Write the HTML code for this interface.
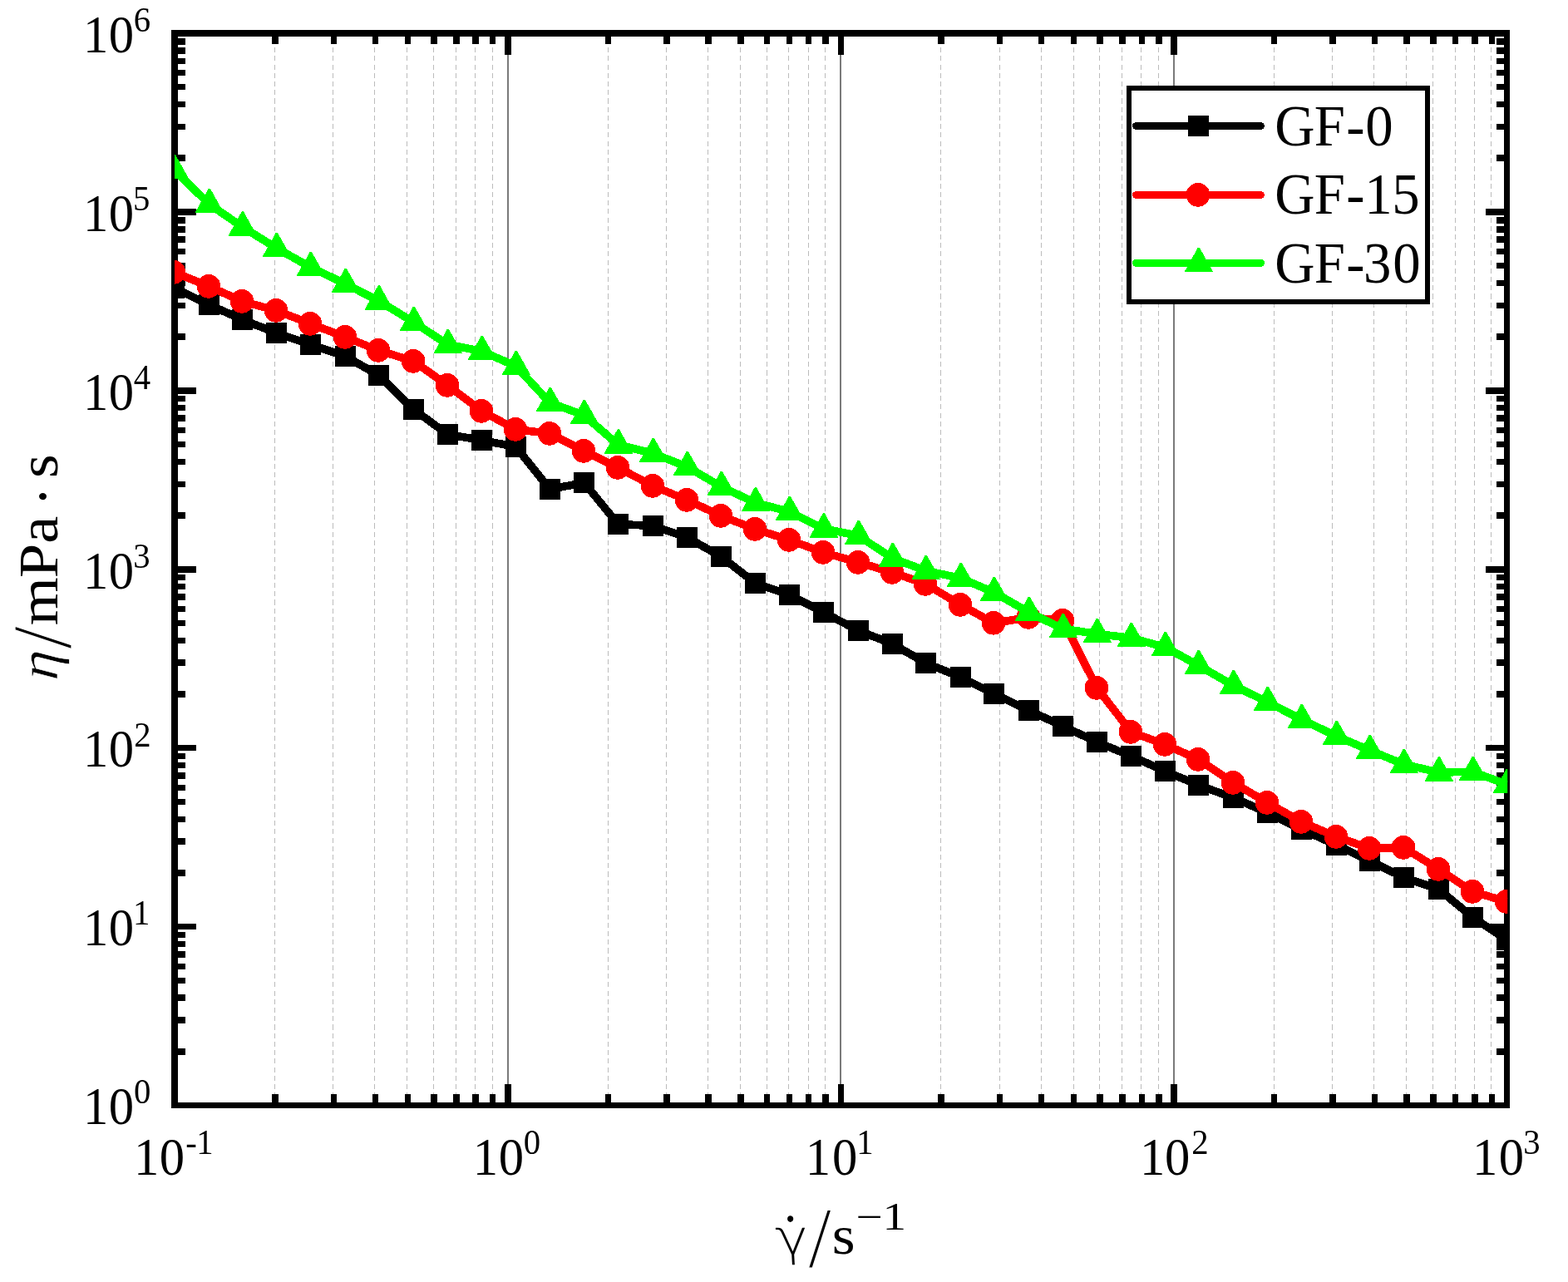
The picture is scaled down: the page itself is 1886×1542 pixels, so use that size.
<!DOCTYPE html>
<html lang="en"><head><meta charset="utf-8"><title>Viscosity versus shear rate</title>
<style>
html,body{margin:0;padding:0;background:#fff;}
body{width:1886px;height:1542px;overflow:hidden;}
svg{display:block;}
text{font-family:"Liberation Serif","DejaVu Serif",serif;fill:#000;white-space:pre;}
.it{font-style:italic;}
</style></head><body>
<svg width="1886" height="1542" viewBox="0 0 1886 1542">
<rect x="0" y="0" width="1886" height="1542" fill="#fff"/>
<defs><clipPath id="plot"><rect x="210" y="40" width="1603.2" height="1289.6"/></clipPath></defs>
<g id="grid" fill="none" shape-rendering="crispEdges">
<line x1="330.5" y1="40" x2="330.5" y2="1329.6" stroke="#bcbcbc" stroke-width="1" stroke-dasharray="6.1 4.12" stroke-dashoffset="3.33"/>
<line x1="400.5" y1="40" x2="400.5" y2="1329.6" stroke="#bcbcbc" stroke-width="1" stroke-dasharray="6.1 4.12" stroke-dashoffset="3.33"/>
<line x1="450.5" y1="40" x2="450.5" y2="1329.6" stroke="#bcbcbc" stroke-width="1" stroke-dasharray="6.1 4.12" stroke-dashoffset="3.33"/>
<line x1="489.5" y1="40" x2="489.5" y2="1329.6" stroke="#bcbcbc" stroke-width="1" stroke-dasharray="6.1 4.12" stroke-dashoffset="3.33"/>
<line x1="521.5" y1="40" x2="521.5" y2="1329.6" stroke="#bcbcbc" stroke-width="1" stroke-dasharray="6.1 4.12" stroke-dashoffset="3.33"/>
<line x1="548.5" y1="40" x2="548.5" y2="1329.6" stroke="#bcbcbc" stroke-width="1" stroke-dasharray="6.1 4.12" stroke-dashoffset="3.33"/>
<line x1="571.5" y1="40" x2="571.5" y2="1329.6" stroke="#bcbcbc" stroke-width="1" stroke-dasharray="6.1 4.12" stroke-dashoffset="3.33"/>
<line x1="592.5" y1="40" x2="592.5" y2="1329.6" stroke="#bcbcbc" stroke-width="1" stroke-dasharray="6.1 4.12" stroke-dashoffset="3.33"/>
<line x1="731.5" y1="40" x2="731.5" y2="1329.6" stroke="#bcbcbc" stroke-width="1" stroke-dasharray="6.1 4.12" stroke-dashoffset="3.33"/>
<line x1="801.5" y1="40" x2="801.5" y2="1329.6" stroke="#bcbcbc" stroke-width="1" stroke-dasharray="6.1 4.12" stroke-dashoffset="3.33"/>
<line x1="851.5" y1="40" x2="851.5" y2="1329.6" stroke="#bcbcbc" stroke-width="1" stroke-dasharray="6.1 4.12" stroke-dashoffset="3.33"/>
<line x1="890.5" y1="40" x2="890.5" y2="1329.6" stroke="#bcbcbc" stroke-width="1" stroke-dasharray="6.1 4.12" stroke-dashoffset="3.33"/>
<line x1="922.5" y1="40" x2="922.5" y2="1329.6" stroke="#bcbcbc" stroke-width="1" stroke-dasharray="6.1 4.12" stroke-dashoffset="3.33"/>
<line x1="948.5" y1="40" x2="948.5" y2="1329.6" stroke="#bcbcbc" stroke-width="1" stroke-dasharray="6.1 4.12" stroke-dashoffset="3.33"/>
<line x1="972.5" y1="40" x2="972.5" y2="1329.6" stroke="#bcbcbc" stroke-width="1" stroke-dasharray="6.1 4.12" stroke-dashoffset="3.33"/>
<line x1="992.5" y1="40" x2="992.5" y2="1329.6" stroke="#bcbcbc" stroke-width="1" stroke-dasharray="6.1 4.12" stroke-dashoffset="3.33"/>
<line x1="1131.5" y1="40" x2="1131.5" y2="1329.6" stroke="#bcbcbc" stroke-width="1" stroke-dasharray="6.1 4.12" stroke-dashoffset="3.33"/>
<line x1="1202.5" y1="40" x2="1202.5" y2="1329.6" stroke="#bcbcbc" stroke-width="1" stroke-dasharray="6.1 4.12" stroke-dashoffset="3.33"/>
<line x1="1252.5" y1="40" x2="1252.5" y2="1329.6" stroke="#bcbcbc" stroke-width="1" stroke-dasharray="6.1 4.12" stroke-dashoffset="3.33"/>
<line x1="1291.5" y1="40" x2="1291.5" y2="1329.6" stroke="#bcbcbc" stroke-width="1" stroke-dasharray="6.1 4.12" stroke-dashoffset="3.33"/>
<line x1="1322.5" y1="40" x2="1322.5" y2="1329.6" stroke="#bcbcbc" stroke-width="1" stroke-dasharray="6.1 4.12" stroke-dashoffset="3.33"/>
<line x1="1349.5" y1="40" x2="1349.5" y2="1329.6" stroke="#bcbcbc" stroke-width="1" stroke-dasharray="6.1 4.12" stroke-dashoffset="3.33"/>
<line x1="1372.5" y1="40" x2="1372.5" y2="1329.6" stroke="#bcbcbc" stroke-width="1" stroke-dasharray="6.1 4.12" stroke-dashoffset="3.33"/>
<line x1="1393.5" y1="40" x2="1393.5" y2="1329.6" stroke="#bcbcbc" stroke-width="1" stroke-dasharray="6.1 4.12" stroke-dashoffset="3.33"/>
<line x1="1532.5" y1="40" x2="1532.5" y2="1329.6" stroke="#bcbcbc" stroke-width="1" stroke-dasharray="6.1 4.12" stroke-dashoffset="3.33"/>
<line x1="1602.5" y1="40" x2="1602.5" y2="1329.6" stroke="#bcbcbc" stroke-width="1" stroke-dasharray="6.1 4.12" stroke-dashoffset="3.33"/>
<line x1="1652.5" y1="40" x2="1652.5" y2="1329.6" stroke="#bcbcbc" stroke-width="1" stroke-dasharray="6.1 4.12" stroke-dashoffset="3.33"/>
<line x1="1691.5" y1="40" x2="1691.5" y2="1329.6" stroke="#bcbcbc" stroke-width="1" stroke-dasharray="6.1 4.12" stroke-dashoffset="3.33"/>
<line x1="1723.5" y1="40" x2="1723.5" y2="1329.6" stroke="#bcbcbc" stroke-width="1" stroke-dasharray="6.1 4.12" stroke-dashoffset="3.33"/>
<line x1="1750.5" y1="40" x2="1750.5" y2="1329.6" stroke="#bcbcbc" stroke-width="1" stroke-dasharray="6.1 4.12" stroke-dashoffset="3.33"/>
<line x1="1773.5" y1="40" x2="1773.5" y2="1329.6" stroke="#bcbcbc" stroke-width="1" stroke-dasharray="6.1 4.12" stroke-dashoffset="3.33"/>
<line x1="1793.5" y1="40" x2="1793.5" y2="1329.6" stroke="#bcbcbc" stroke-width="1" stroke-dasharray="6.1 4.12" stroke-dashoffset="3.33"/>
<line x1="611" y1="40" x2="611" y2="1329.6" stroke="#7a7a7a" stroke-width="2"/>
<line x1="1011" y1="40" x2="1011" y2="1329.6" stroke="#7a7a7a" stroke-width="2"/>
<line x1="1412" y1="40" x2="1412" y2="1329.6" stroke="#7a7a7a" stroke-width="2"/>
</g>
<g id="axes" fill="#000" shape-rendering="crispEdges">
<rect x="206" y="36" width="8" height="1297"/>
<rect x="1809" y="36" width="7" height="1297"/>
<rect x="206" y="36" width="1610" height="8"/>
<rect x="206" y="1326" width="1610" height="7"/>
<rect x="327.11" y="1316" width="7.5" height="11"/>
<rect x="327.11" y="43" width="7.5" height="10"/>
<rect x="397.66" y="1316" width="7.5" height="11"/>
<rect x="397.66" y="43" width="7.5" height="10"/>
<rect x="447.71" y="1316" width="7.5" height="11"/>
<rect x="447.71" y="43" width="7.5" height="10"/>
<rect x="486.53" y="1316" width="7.5" height="11"/>
<rect x="486.53" y="43" width="7.5" height="10"/>
<rect x="518.25" y="1316" width="7.5" height="11"/>
<rect x="518.25" y="43" width="7.5" height="10"/>
<rect x="545.07" y="1316" width="7.5" height="11"/>
<rect x="545.07" y="43" width="7.5" height="10"/>
<rect x="568.3" y="1316" width="7.5" height="11"/>
<rect x="568.3" y="43" width="7.5" height="10"/>
<rect x="588.8" y="1316" width="7.5" height="11"/>
<rect x="588.8" y="43" width="7.5" height="10"/>
<rect x="607.13" y="1304" width="7.5" height="23"/>
<rect x="607.13" y="43" width="7.5" height="22.5"/>
<rect x="727.72" y="1316" width="7.5" height="11"/>
<rect x="727.72" y="43" width="7.5" height="10"/>
<rect x="798.27" y="1316" width="7.5" height="11"/>
<rect x="798.27" y="43" width="7.5" height="10"/>
<rect x="848.32" y="1316" width="7.5" height="11"/>
<rect x="848.32" y="43" width="7.5" height="10"/>
<rect x="887.14" y="1316" width="7.5" height="11"/>
<rect x="887.14" y="43" width="7.5" height="10"/>
<rect x="918.86" y="1316" width="7.5" height="11"/>
<rect x="918.86" y="43" width="7.5" height="10"/>
<rect x="945.68" y="1316" width="7.5" height="11"/>
<rect x="945.68" y="43" width="7.5" height="10"/>
<rect x="968.91" y="1316" width="7.5" height="11"/>
<rect x="968.91" y="43" width="7.5" height="10"/>
<rect x="989.4" y="1316" width="7.5" height="11"/>
<rect x="989.4" y="43" width="7.5" height="10"/>
<rect x="1007.74" y="1304" width="7.5" height="23"/>
<rect x="1007.74" y="43" width="7.5" height="22.5"/>
<rect x="1128.33" y="1316" width="7.5" height="11"/>
<rect x="1128.33" y="43" width="7.5" height="10"/>
<rect x="1198.87" y="1316" width="7.5" height="11"/>
<rect x="1198.87" y="43" width="7.5" height="10"/>
<rect x="1248.92" y="1316" width="7.5" height="11"/>
<rect x="1248.92" y="43" width="7.5" height="10"/>
<rect x="1287.75" y="1316" width="7.5" height="11"/>
<rect x="1287.75" y="43" width="7.5" height="10"/>
<rect x="1319.47" y="1316" width="7.5" height="11"/>
<rect x="1319.47" y="43" width="7.5" height="10"/>
<rect x="1346.29" y="1316" width="7.5" height="11"/>
<rect x="1346.29" y="43" width="7.5" height="10"/>
<rect x="1369.52" y="1316" width="7.5" height="11"/>
<rect x="1369.52" y="43" width="7.5" height="10"/>
<rect x="1390.01" y="1316" width="7.5" height="11"/>
<rect x="1390.01" y="43" width="7.5" height="10"/>
<rect x="1408.34" y="1304" width="7.5" height="23"/>
<rect x="1408.34" y="43" width="7.5" height="22.5"/>
<rect x="1528.94" y="1316" width="7.5" height="11"/>
<rect x="1528.94" y="43" width="7.5" height="10"/>
<rect x="1599.48" y="1316" width="7.5" height="11"/>
<rect x="1599.48" y="43" width="7.5" height="10"/>
<rect x="1649.53" y="1316" width="7.5" height="11"/>
<rect x="1649.53" y="43" width="7.5" height="10"/>
<rect x="1688.36" y="1316" width="7.5" height="11"/>
<rect x="1688.36" y="43" width="7.5" height="10"/>
<rect x="1720.08" y="1316" width="7.5" height="11"/>
<rect x="1720.08" y="43" width="7.5" height="10"/>
<rect x="1746.9" y="1316" width="7.5" height="11"/>
<rect x="1746.9" y="43" width="7.5" height="10"/>
<rect x="1770.13" y="1316" width="7.5" height="11"/>
<rect x="1770.13" y="43" width="7.5" height="10"/>
<rect x="1790.62" y="1316" width="7.5" height="11"/>
<rect x="1790.62" y="43" width="7.5" height="10"/>
<rect x="213" y="1261.15" width="10" height="7.5"/>
<rect x="1800" y="1261.15" width="10" height="7.5"/>
<rect x="213" y="1223.3" width="10" height="7.5"/>
<rect x="1800" y="1223.3" width="10" height="7.5"/>
<rect x="213" y="1196.45" width="10" height="7.5"/>
<rect x="1800" y="1196.45" width="10" height="7.5"/>
<rect x="213" y="1175.62" width="10" height="7.5"/>
<rect x="1800" y="1175.62" width="10" height="7.5"/>
<rect x="213" y="1158.6" width="10" height="7.5"/>
<rect x="1800" y="1158.6" width="10" height="7.5"/>
<rect x="213" y="1144.21" width="10" height="7.5"/>
<rect x="1800" y="1144.21" width="10" height="7.5"/>
<rect x="213" y="1131.75" width="10" height="7.5"/>
<rect x="1800" y="1131.75" width="10" height="7.5"/>
<rect x="213" y="1120.75" width="10" height="7.5"/>
<rect x="1800" y="1120.75" width="10" height="7.5"/>
<rect x="213" y="1110.92" width="23" height="7.5"/>
<rect x="1787" y="1110.92" width="23" height="7.5"/>
<rect x="213" y="1046.22" width="10" height="7.5"/>
<rect x="1800" y="1046.22" width="10" height="7.5"/>
<rect x="213" y="1008.37" width="10" height="7.5"/>
<rect x="1800" y="1008.37" width="10" height="7.5"/>
<rect x="213" y="981.51" width="10" height="7.5"/>
<rect x="1800" y="981.51" width="10" height="7.5"/>
<rect x="213" y="960.68" width="10" height="7.5"/>
<rect x="1800" y="960.68" width="10" height="7.5"/>
<rect x="213" y="943.67" width="10" height="7.5"/>
<rect x="1800" y="943.67" width="10" height="7.5"/>
<rect x="213" y="929.28" width="10" height="7.5"/>
<rect x="1800" y="929.28" width="10" height="7.5"/>
<rect x="213" y="916.81" width="10" height="7.5"/>
<rect x="1800" y="916.81" width="10" height="7.5"/>
<rect x="213" y="905.82" width="10" height="7.5"/>
<rect x="1800" y="905.82" width="10" height="7.5"/>
<rect x="213" y="895.98" width="23" height="7.5"/>
<rect x="1787" y="895.98" width="23" height="7.5"/>
<rect x="213" y="831.28" width="10" height="7.5"/>
<rect x="1800" y="831.28" width="10" height="7.5"/>
<rect x="213" y="793.43" width="10" height="7.5"/>
<rect x="1800" y="793.43" width="10" height="7.5"/>
<rect x="213" y="766.58" width="10" height="7.5"/>
<rect x="1800" y="766.58" width="10" height="7.5"/>
<rect x="213" y="745.75" width="10" height="7.5"/>
<rect x="1800" y="745.75" width="10" height="7.5"/>
<rect x="213" y="728.73" width="10" height="7.5"/>
<rect x="1800" y="728.73" width="10" height="7.5"/>
<rect x="213" y="714.34" width="10" height="7.5"/>
<rect x="1800" y="714.34" width="10" height="7.5"/>
<rect x="213" y="701.88" width="10" height="7.5"/>
<rect x="1800" y="701.88" width="10" height="7.5"/>
<rect x="213" y="690.88" width="10" height="7.5"/>
<rect x="1800" y="690.88" width="10" height="7.5"/>
<rect x="213" y="681.05" width="23" height="7.5"/>
<rect x="1787" y="681.05" width="23" height="7.5"/>
<rect x="213" y="616.35" width="10" height="7.5"/>
<rect x="1800" y="616.35" width="10" height="7.5"/>
<rect x="213" y="578.5" width="10" height="7.5"/>
<rect x="1800" y="578.5" width="10" height="7.5"/>
<rect x="213" y="551.65" width="10" height="7.5"/>
<rect x="1800" y="551.65" width="10" height="7.5"/>
<rect x="213" y="530.82" width="10" height="7.5"/>
<rect x="1800" y="530.82" width="10" height="7.5"/>
<rect x="213" y="513.8" width="10" height="7.5"/>
<rect x="1800" y="513.8" width="10" height="7.5"/>
<rect x="213" y="499.41" width="10" height="7.5"/>
<rect x="1800" y="499.41" width="10" height="7.5"/>
<rect x="213" y="486.95" width="10" height="7.5"/>
<rect x="1800" y="486.95" width="10" height="7.5"/>
<rect x="213" y="475.95" width="10" height="7.5"/>
<rect x="1800" y="475.95" width="10" height="7.5"/>
<rect x="213" y="466.12" width="23" height="7.5"/>
<rect x="1787" y="466.12" width="23" height="7.5"/>
<rect x="213" y="401.42" width="10" height="7.5"/>
<rect x="1800" y="401.42" width="10" height="7.5"/>
<rect x="213" y="363.57" width="10" height="7.5"/>
<rect x="1800" y="363.57" width="10" height="7.5"/>
<rect x="213" y="336.71" width="10" height="7.5"/>
<rect x="1800" y="336.71" width="10" height="7.5"/>
<rect x="213" y="315.88" width="10" height="7.5"/>
<rect x="1800" y="315.88" width="10" height="7.5"/>
<rect x="213" y="298.87" width="10" height="7.5"/>
<rect x="1800" y="298.87" width="10" height="7.5"/>
<rect x="213" y="284.48" width="10" height="7.5"/>
<rect x="1800" y="284.48" width="10" height="7.5"/>
<rect x="213" y="272.01" width="10" height="7.5"/>
<rect x="1800" y="272.01" width="10" height="7.5"/>
<rect x="213" y="261.02" width="10" height="7.5"/>
<rect x="1800" y="261.02" width="10" height="7.5"/>
<rect x="213" y="251.18" width="23" height="7.5"/>
<rect x="1787" y="251.18" width="23" height="7.5"/>
<rect x="213" y="186.48" width="10" height="7.5"/>
<rect x="1800" y="186.48" width="10" height="7.5"/>
<rect x="213" y="148.63" width="10" height="7.5"/>
<rect x="1800" y="148.63" width="10" height="7.5"/>
<rect x="213" y="121.78" width="10" height="7.5"/>
<rect x="1800" y="121.78" width="10" height="7.5"/>
<rect x="213" y="100.95" width="10" height="7.5"/>
<rect x="1800" y="100.95" width="10" height="7.5"/>
<rect x="213" y="83.93" width="10" height="7.5"/>
<rect x="1800" y="83.93" width="10" height="7.5"/>
<rect x="213" y="69.54" width="10" height="7.5"/>
<rect x="1800" y="69.54" width="10" height="7.5"/>
<rect x="213" y="57.08" width="10" height="7.5"/>
<rect x="1800" y="57.08" width="10" height="7.5"/>
<rect x="213" y="46.08" width="10" height="7.5"/>
<rect x="1800" y="46.08" width="10" height="7.5"/>
</g>
<g id="data" clip-path="url(#plot)" shape-rendering="crispEdges">
<g id="series-gf0" fill="#000" stroke="none">
<polyline points="209.5,346.5 251.5,366.5 291.5,384.5 332.5,400.5 373.5,414.5 415.5,428.5 455.5,451.5 497.5,492.5 538.5,522.5 579.5,529.5 620.5,537.5 661.5,588.5 702.5,580.5 743.5,630.5 785.5,632.5 826.5,646.5 867.5,669.5 908.5,701.5 949.5,715.5 990.5,736.5 1032.5,758.5 1073.5,774.5 1113.5,797.5 1155.5,814.5 1195.5,834.5 1237.5,854.5 1278.5,873.5 1319.5,892.5 1360.5,909.5 1401.5,927.5 1441.5,944.5 1483.5,959.5 1524.5,977.5 1565.5,997.5 1607.5,1016.5 1647.5,1035.5 1688.5,1055.5 1730.5,1069.5 1771.5,1103.5 1812.5,1130.5" fill="none" stroke="#000" stroke-width="9.6" stroke-linejoin="round"/>
<rect x="197" y="334" width="25" height="25"/>
<rect x="239" y="354" width="25" height="25"/>
<rect x="279" y="372" width="25" height="25"/>
<rect x="320" y="388" width="25" height="25"/>
<rect x="361" y="402" width="25" height="25"/>
<rect x="403" y="416" width="25" height="25"/>
<rect x="443" y="439" width="25" height="25"/>
<rect x="485" y="480" width="25" height="25"/>
<rect x="526" y="510" width="25" height="25"/>
<rect x="567" y="517" width="25" height="25"/>
<rect x="608" y="525" width="25" height="25"/>
<rect x="649" y="576" width="25" height="25"/>
<rect x="690" y="568" width="25" height="25"/>
<rect x="731" y="618" width="25" height="25"/>
<rect x="773" y="620" width="25" height="25"/>
<rect x="814" y="634" width="25" height="25"/>
<rect x="855" y="657" width="25" height="25"/>
<rect x="896" y="689" width="25" height="25"/>
<rect x="937" y="703" width="25" height="25"/>
<rect x="978" y="724" width="25" height="25"/>
<rect x="1020" y="746" width="25" height="25"/>
<rect x="1061" y="762" width="25" height="25"/>
<rect x="1101" y="785" width="25" height="25"/>
<rect x="1143" y="802" width="25" height="25"/>
<rect x="1183" y="822" width="25" height="25"/>
<rect x="1225" y="842" width="25" height="25"/>
<rect x="1266" y="861" width="25" height="25"/>
<rect x="1307" y="880" width="25" height="25"/>
<rect x="1348" y="897" width="25" height="25"/>
<rect x="1389" y="915" width="25" height="25"/>
<rect x="1429" y="932" width="25" height="25"/>
<rect x="1471" y="947" width="25" height="25"/>
<rect x="1512" y="965" width="25" height="25"/>
<rect x="1553" y="985" width="25" height="25"/>
<rect x="1595" y="1004" width="25" height="25"/>
<rect x="1635" y="1023" width="25" height="25"/>
<rect x="1676" y="1043" width="25" height="25"/>
<rect x="1718" y="1057" width="25" height="25"/>
<rect x="1759" y="1091" width="25" height="25"/>
<rect x="1800" y="1118" width="25" height="25"/>
</g>
<g id="series-gf15" fill="#f00" stroke="none">
<polyline points="209.5,327.5 251.5,344.5 291.5,362.5 332.5,373.5 373.5,389.5 415.5,405.5 455.5,421.5 497.5,434.5 538.5,463.5 579.5,494.5 620.5,516.5 661.5,521.5 702.5,542.5 743.5,562.5 785.5,584.5 826.5,601.5 867.5,620.5 908.5,636.5 949.5,649.5 990.5,664.5 1032.5,676.5 1073.5,688.5 1113.5,702.5 1155.5,727.5 1195.5,749.5 1237.5,742.5 1278.5,746.5 1319.5,827.5 1360.5,880.5 1401.5,895.5 1441.5,913.5 1483.5,941.5 1524.5,965.5 1565.5,988.5 1607.5,1006.5 1647.5,1020.5 1688.5,1019.5 1730.5,1045.5 1771.5,1072.5 1812.5,1084.5" fill="none" stroke="#f00" stroke-width="9.6" stroke-linejoin="round"/>
<circle cx="209" cy="327.3" r="14.35"/>
<circle cx="251" cy="344.3" r="14.35"/>
<circle cx="291" cy="362.3" r="14.35"/>
<circle cx="332" cy="373.3" r="14.35"/>
<circle cx="373" cy="389.3" r="14.35"/>
<circle cx="415" cy="405.3" r="14.35"/>
<circle cx="455" cy="421.3" r="14.35"/>
<circle cx="497" cy="434.3" r="14.35"/>
<circle cx="538" cy="463.3" r="14.35"/>
<circle cx="579" cy="494.3" r="14.35"/>
<circle cx="620" cy="516.3" r="14.35"/>
<circle cx="661" cy="521.3" r="14.35"/>
<circle cx="702" cy="542.3" r="14.35"/>
<circle cx="743" cy="562.3" r="14.35"/>
<circle cx="785" cy="584.3" r="14.35"/>
<circle cx="826" cy="601.3" r="14.35"/>
<circle cx="867" cy="620.3" r="14.35"/>
<circle cx="908" cy="636.3" r="14.35"/>
<circle cx="949" cy="649.3" r="14.35"/>
<circle cx="990" cy="664.3" r="14.35"/>
<circle cx="1032" cy="676.3" r="14.35"/>
<circle cx="1073" cy="688.3" r="14.35"/>
<circle cx="1113" cy="702.3" r="14.35"/>
<circle cx="1155" cy="727.3" r="14.35"/>
<circle cx="1195" cy="749.3" r="14.35"/>
<circle cx="1237" cy="742.3" r="14.35"/>
<circle cx="1278" cy="746.3" r="14.35"/>
<circle cx="1319" cy="827.3" r="14.35"/>
<circle cx="1360" cy="880.3" r="14.35"/>
<circle cx="1401" cy="895.3" r="14.35"/>
<circle cx="1441" cy="913.3" r="14.35"/>
<circle cx="1483" cy="941.3" r="14.35"/>
<circle cx="1524" cy="965.3" r="14.35"/>
<circle cx="1565" cy="988.3" r="14.35"/>
<circle cx="1607" cy="1006.3" r="14.35"/>
<circle cx="1647" cy="1020.3" r="14.35"/>
<circle cx="1688" cy="1019.3" r="14.35"/>
<circle cx="1730" cy="1045.3" r="14.35"/>
<circle cx="1771" cy="1072.3" r="14.35"/>
<circle cx="1812" cy="1084.3" r="14.35"/>
</g>
<g id="series-gf30" fill="#0f0" stroke="none">
<polyline points="209.5,204.42 251.5,245.42 291.5,272.92 332.5,298.42 373.5,321.42 415.5,341.42 455.5,361.92 497.5,387.42 538.5,414.42 579.5,422.42 620.5,440.42 661.5,484.42 702.5,499.42 743.5,534.92 785.5,545.42 826.5,561.42 867.5,585.42 908.5,604.7 949.5,615.42 990.5,635.92 1032.5,644.42 1073.5,671.42 1113.5,686.42 1155.5,695.42 1195.5,712.42 1237.5,736.42 1278.5,756.42 1319.5,762.42 1360.5,767.42 1401.5,778.42 1441.5,800.42 1483.5,824.42 1524.5,844.42 1565.5,865.42 1607.5,885.42 1647.5,902.42 1688.5,919.42 1730.5,928.92 1771.5,928.42 1812.5,943.42" fill="none" stroke="#0f0" stroke-width="9.6" stroke-linejoin="round"/>
<polygon points="208.75,185.92 210.95,185.92 227.15,215.02 192.55,215.02"/>
<polygon points="250.75,226.92 252.95,226.92 269.15,256.02 234.55,256.02"/>
<polygon points="290.75,254.42 292.95,254.42 309.15,283.52 274.55,283.52"/>
<polygon points="331.75,279.92 333.95,279.92 350.15,309.02 315.55,309.02"/>
<polygon points="372.75,302.92 374.95,302.92 391.15,332.02 356.55,332.02"/>
<polygon points="414.75,322.92 416.95,322.92 433.15,352.02 398.55,352.02"/>
<polygon points="454.75,343.42 456.95,343.42 473.15,372.52 438.55,372.52"/>
<polygon points="496.75,368.92 498.95,368.92 515.15,398.02 480.55,398.02"/>
<polygon points="537.75,395.92 539.95,395.92 556.15,425.02 521.55,425.02"/>
<polygon points="578.75,403.92 580.95,403.92 597.15,433.02 562.55,433.02"/>
<polygon points="619.75,421.92 621.95,421.92 638.15,451.02 603.55,451.02"/>
<polygon points="660.75,465.92 662.95,465.92 679.15,495.02 644.55,495.02"/>
<polygon points="701.75,480.92 703.95,480.92 720.15,510.02 685.55,510.02"/>
<polygon points="742.75,516.42 744.95,516.42 761.15,545.52 726.55,545.52"/>
<polygon points="784.75,526.92 786.95,526.92 803.15,556.02 768.55,556.02"/>
<polygon points="825.75,542.92 827.95,542.92 844.15,572.02 809.55,572.02"/>
<polygon points="866.75,566.92 868.95,566.92 885.15,596.02 850.55,596.02"/>
<polygon points="907.75,586.2 909.95,586.2 926.15,615.3 891.55,615.3"/>
<polygon points="948.75,596.92 950.95,596.92 967.15,626.02 932.55,626.02"/>
<polygon points="989.75,617.42 991.95,617.42 1008.15,646.52 973.55,646.52"/>
<polygon points="1031.75,625.92 1033.95,625.92 1050.15,655.02 1015.55,655.02"/>
<polygon points="1072.75,652.92 1074.95,652.92 1091.15,682.02 1056.55,682.02"/>
<polygon points="1112.75,667.92 1114.95,667.92 1131.15,697.02 1096.55,697.02"/>
<polygon points="1154.75,676.92 1156.95,676.92 1173.15,706.02 1138.55,706.02"/>
<polygon points="1194.75,693.92 1196.95,693.92 1213.15,723.02 1178.55,723.02"/>
<polygon points="1236.75,717.92 1238.95,717.92 1255.15,747.02 1220.55,747.02"/>
<polygon points="1277.75,737.92 1279.95,737.92 1296.15,767.02 1261.55,767.02"/>
<polygon points="1318.75,743.92 1320.95,743.92 1337.15,773.02 1302.55,773.02"/>
<polygon points="1359.75,748.92 1361.95,748.92 1378.15,778.02 1343.55,778.02"/>
<polygon points="1400.75,759.92 1402.95,759.92 1419.15,789.02 1384.55,789.02"/>
<polygon points="1440.75,781.92 1442.95,781.92 1459.15,811.02 1424.55,811.02"/>
<polygon points="1482.75,805.92 1484.95,805.92 1501.15,835.02 1466.55,835.02"/>
<polygon points="1523.75,825.92 1525.95,825.92 1542.15,855.02 1507.55,855.02"/>
<polygon points="1564.75,846.92 1566.95,846.92 1583.15,876.02 1548.55,876.02"/>
<polygon points="1606.75,866.92 1608.95,866.92 1625.15,896.02 1590.55,896.02"/>
<polygon points="1646.75,883.92 1648.95,883.92 1665.15,913.02 1630.55,913.02"/>
<polygon points="1687.75,900.92 1689.95,900.92 1706.15,930.02 1671.55,930.02"/>
<polygon points="1729.75,910.42 1731.95,910.42 1748.15,939.52 1713.55,939.52"/>
<polygon points="1770.75,909.92 1772.95,909.92 1789.15,939.02 1754.55,939.02"/>
<polygon points="1811.75,924.92 1813.95,924.92 1830.15,954.02 1795.55,954.02"/>
</g>
</g>
<g id="legend" shape-rendering="crispEdges">
<rect x="1358.05" y="106.05" width="358.9" height="256.8" fill="#fff" stroke="#000" stroke-width="5.7"/>
<line x1="1366.5" y1="151.5" x2="1516.5" y2="151.5" stroke="#000" stroke-width="9" stroke-linecap="round"/>
<rect x="1429" y="139" width="25" height="25" fill="#000"/>
<text transform="scale(0.97,1)" x="1580.56 1629.65 1669.27 1692.93" y="175.2" font-size="68.9">GF-0</text>
<line x1="1366.5" y1="234.5" x2="1516.5" y2="234.5" stroke="#f00" stroke-width="9" stroke-linecap="round"/>
<circle cx="1441" cy="234.3" r="14.35" fill="#f00"/>
<text transform="scale(0.97,1)" x="1580.56 1629.65 1669.27 1692.02 1725.93" y="257" font-size="68.9">GF-15</text>
<line x1="1366.5" y1="316.45" x2="1516.5" y2="316.45" stroke="#0f0" stroke-width="9" stroke-linecap="round"/>
<polygon points="1440.75,297.95 1442.95,297.95 1459.15,327.05 1424.55,327.05" fill="#0f0"/>
<text transform="scale(0.97,1)" x="1580.56 1629.65 1669.27 1690.62 1727" y="339.9" font-size="68.9">GF-30</text>
</g>
<g id="ticklabels">
<text transform="scale(0.95,1)" x="105.19 137.6" y="1352" font-size="63.9">10<tspan x="169.43" dy="-24.8" font-size="42.9">0</tspan></text>
<text transform="scale(0.95,1)" x="105.19 137.6" y="1137.18" font-size="63.9">10<tspan x="168.47" dy="-24.8" font-size="42.9">1</tspan></text>
<text transform="scale(0.95,1)" x="105.19 137.6" y="922.36" font-size="63.9">10<tspan x="169.83" dy="-24.8" font-size="42.9">2</tspan></text>
<text transform="scale(0.95,1)" x="105.19 137.6" y="707.54" font-size="63.9">10<tspan x="168.61" dy="-24.8" font-size="42.9">3</tspan></text>
<text transform="scale(0.95,1)" x="105.19 137.6" y="492.72" font-size="63.9">10<tspan x="169.09" dy="-24.8" font-size="42.9">4</tspan></text>
<text transform="scale(0.95,1)" x="105.19 137.6" y="277.9" font-size="63.9">10<tspan x="168.45" dy="-24.8" font-size="42.9">5</tspan></text>
<text transform="scale(0.95,1)" x="105.19 137.6" y="63.08" font-size="63.9">10<tspan x="169.1" dy="-24.8" font-size="42.9">6</tspan></text>
<text transform="scale(0.95,1)" x="169.56 201.97" y="1413" font-size="63.9">10<tspan x="234.89 248.78" dy="-24.8" font-size="42.9">-1</tspan></text>
<text transform="scale(0.95,1)" x="598.82 631.45" y="1413" font-size="63.9">10<tspan x="662.96" dy="-24.8" font-size="42.9">0</tspan></text>
<text transform="scale(0.95,1)" x="1019.87 1053.66" y="1413" font-size="63.9">10<tspan x="1084.47" dy="-24.8" font-size="42.9">1</tspan></text>
<text transform="scale(0.95,1)" x="1443.19 1474.71" y="1413" font-size="63.9">10<tspan x="1508.57" dy="-24.8" font-size="42.9">2</tspan></text>
<text transform="scale(0.95,1)" x="1864.29 1897.6" y="1413" font-size="63.9">10<tspan x="1928.67" dy="-24.8" font-size="42.9">3</tspan></text>
</g>
<g id="titles">
<g id="xtitle" role="img" aria-label="γ̇/s⁻¹"><title>γ̇/s⁻¹</title>
<text transform="translate(933.78,1508.87) scale(1.1466,1.0000) skewX(3)" font-size="58.82" style="font-family:'DejaVu Sans Light','DejaVu Sans',sans-serif;font-weight:200">γ</text>
<text transform="translate(939.2,1511.37) scale(0.9114,1.0000)" font-size="74.56">˙</text>
<text transform="translate(972.4,1523.59) scale(0.9589,1.0176)" font-size="102.1" stroke="#fff" stroke-width="1.21" stroke-linejoin="round">/</text>
<text transform="translate(1000.87,1507.56) scale(1.0913,1.0000)" font-size="65.49">s</text>
<text transform="scale(1.25,1)" x="823.76 849.21" y="1479.1" font-size="45.75">−1</text>
</g>
<g id="ytitle" role="img" aria-label="η/mPa·s" transform="translate(69.1,816) rotate(-90)"><title>η/mPa · s</title>
<text transform="translate(-5.85,-0.08) scale(1.0404,1.0132) skewX(-14)" font-size="66.22" stroke="#fff" stroke-width="0.58" stroke-linejoin="round">η</text>
<text transform="translate(35.4,15.6) scale(0.9767,1.0178)" font-size="100.61" stroke="#fff" stroke-width="1.2" stroke-linejoin="round">/</text>
<text transform="scale(1.09,1)" x="58.58 110.86 148.86" y="0" font-size="68.4">mPa</text>
<text transform="translate(207.54,7.95) scale(0.8901,1.0000)" font-size="77.01">·</text>
<text transform="translate(241.08,-0.46) scale(1.0909,1.0000)" font-size="67.57">s</text>
</g>
</g>
</svg>
</body></html>
